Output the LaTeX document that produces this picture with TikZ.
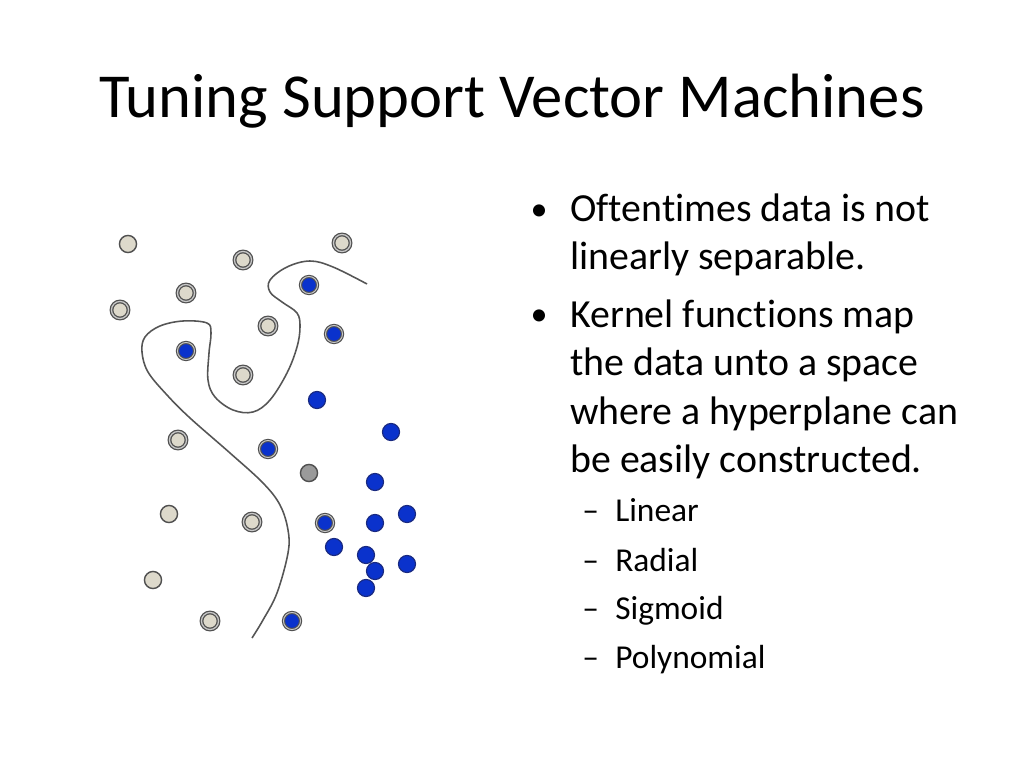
\documentclass[tikz,border=0pt]{standalone}
\usepackage{fontspec}
\setmainfont{Carlito}[Ligatures=NoCommon]
\begin{document}
\begin{tikzpicture}[x=0.703125pt,y=-0.703125pt,
  bp/.style={circle,inner sep=0pt,minimum size=12pt,fill=beige,draw=ringgray,line width=1pt},
  br/.style={circle,inner sep=0pt,minimum size=12pt,fill=beige,draw=ringgray,line width=0.9pt,double=ringlight,double distance=0.9pt},
  up/.style={circle,inner sep=0pt,minimum size=12pt,fill=dotblue,draw=blueedge,line width=0.8pt},
  ur/.style={circle,inner sep=0pt,minimum size=12pt,fill=dotblue,draw=ringgray,line width=0.8pt,double=ringlight,double distance=0.7pt},
  gp/.style={circle,inner sep=0pt,minimum size=12pt,fill=dotgray,draw=ringgray,line width=1pt},
  sep/.style={draw=curvegray,line width=1.1pt},
  title/.style={font=\fontsize{44}{50}\selectfont,inner sep=0pt,anchor=base},
  body/.style={font=\fontsize{28}{32}\selectfont,inner sep=0pt,anchor=base west},
  bul/.style={font=\fontsize{24}{28}\selectfont,inner sep=0pt,anchor=base},
  sub/.style={font=\fontsize{23.5}{27}\selectfont,inner sep=0pt,anchor=base west}]
\definecolor{beige}{HTML}{DDD9CB}
\definecolor{ringgray}{HTML}{505050}
\definecolor{ringlight}{HTML}{C8C8C8}
\definecolor{dotblue}{HTML}{0A32CC}
\definecolor{blueedge}{HTML}{1A2A80}
\definecolor{dotgray}{HTML}{9A9A9A}
\definecolor{curvegray}{HTML}{555555}
\useasboundingbox (0,0) rectangle (1024,768);
\fill[white] (0,0) rectangle (1024,768);

\node[title] (t) at (512,118) {Tuning Support Vector Machines};

% separating curve
\draw[sep] plot[smooth,tension=0.6] coordinates {
 (367,284) (333,267) (310,261) (287,267) (270,280) (270,292) (282,302) (297,313) (300,327)
 (297,347) (287,373) (270,400) (253,412) (233,410) (215,397) (208,380) (209,353) (211,333)
 (207,323) (183,321) (160,326) (145,337) (142,352) (148,372) (167,395) (190,418)
 (230,453) (263,483) (280,505) (288,530) (288,553) (277,593) (263,620) (252,638)};

% beige
\node[bp] (c1) at (128,244) {};
\node[br] (c2) at (243,260) {};
\node[br] (c3) at (342,243) {};
\node[br] (c4) at (186,293) {};
\node[br] (c5) at (120,310) {};
\node[br] (c6) at (268,326) {};
\node[br] (c7) at (243,375) {};
\node[br] (c8) at (178,440) {};
\node[bp] (c9) at (169,514) {};
\node[br] (c10) at (252,522) {};
\node[bp] (c11) at (153,580) {};
\node[br] (c12) at (210,621) {};
% blue
\node[ur] (d1) at (309,285) {};
\node[ur] (d2) at (334,334) {};
\node[ur] (d3) at (186,351) {};
\node[up] (d4) at (317,400) {};
\node[up] (d5) at (391,432) {};
\node[ur] (d6) at (268,449) {};
\node[gp] (g1) at (309,473) {};
\node[up] (d7) at (375,482) {};
\node[ur] (d8) at (325,523) {};
\node[up] (d9) at (375,523) {};
\node[up] (d10) at (407,514) {};
\node[up] (d11) at (334,547) {};
\node[up] (d12) at (366,555) {};
\node[up] (d13) at (407,564) {};
\node[up] (d14) at (375,571) {};
\node[up] (d15) at (366,588) {};
\node[ur] (d16) at (292,621) {};

% text
\node[bul] (b1) at (539,221) {•};
\node[body] (l1) at (570,222) {Oftentimes data is not};
\node[body] (l2) at (570,270) {linearly separable.};
\node[bul] (b2) at (539,326) {•};
\node[body] (l3) at (570,327) {Kernel functions map};
\node[body] (l4) at (570,375) {the data unto a space};
\node[body] (l5) at (570,424) {where a hyperplane can};
\node[body] (l6) at (570,472) {be easily constructed.};
\node[sub] (s1d) at (582,521) {–};
\node[sub] (s1) at (615,521) {Linear};
\node[sub] (s2d) at (582,571) {–};
\node[sub] (s2) at (615,571) {Radial};
\node[sub] (s3d) at (582,619) {–};
\node[sub] (s3) at (615,619) {Sigmoid};
\node[sub] (s4d) at (582,668) {–};
\node[sub] (s4) at (615,668) {Polynomial};
\end{tikzpicture}
\end{document}
